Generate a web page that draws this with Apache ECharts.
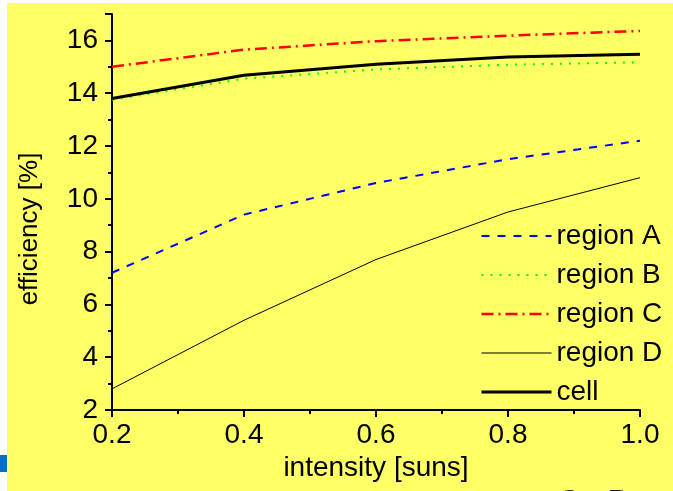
<!DOCTYPE html>
<html>
<head>
<meta charset="utf-8">
<script src="https://cdn.jsdelivr.net/npm/echarts@6/dist/echarts.min.js"></script>
<style>
  html, body { margin: 0; padding: 0; background: #ffffff; }
  #chart { width: 673px; height: 491px; }
</style>
</head>
<body>
<div id="chart"></div>
<script>
// Efficiency versus illumination intensity
const intensity = [0.2, 0.4, 0.6, 0.8, 1.0];
const regionA = [7.2, 9.4, 10.6, 11.5, 12.2];
const regionB = [13.75, 14.55, 14.9, 15.08, 15.17];
const regionC = [15.0, 15.65, 15.97, 16.18, 16.36];
const regionD = [2.8, 5.4, 7.7, 9.5, 10.8];
const cell = [13.8, 14.68, 15.1, 15.37, 15.48];
const yTicks = [2, 4, 6, 8, 10, 12, 14, 16];

const font = 'Liberation Sans, Arial, sans-serif';
const pairs = (ys) => intensity.map((x, i) => [x, ys[i]]);

// line appearance per series
const styles = {
  'region A': { color: '#0000FF', width: 2, type: [8, 8] },
  'region B': { color: '#00FF00', width: 2, type: [2, 7] },
  'region C': { color: '#FF0000', width: 2.5, type: [12, 5, 2, 5] },
  'region D': { color: '#000000', width: 1, type: 'solid' },
  'cell': { color: '#000000', width: 3, type: 'solid' }
};

const chart = echarts.init(document.getElementById('chart'), null, { renderer: 'canvas' });

function lineSeries(name, ys) {
  const s = styles[name];
  return {
    name, type: 'line', data: pairs(ys), symbol: 'none', smooth: false,
    lineStyle: { color: s.color, width: s.width, type: s.type },
    itemStyle: { color: s.color },
    animation: false
  };
}

const legendNames = ['region A', 'region B', 'region C', 'region D', 'cell'];

chart.setOption({
  backgroundColor: '#ffffff',
  animation: false,
  graphic: [
    { type: 'rect', z: -10, shape: { x: 7, y: 3, width: 666, height: 488 }, style: { fill: '#FFFF66' } },
    { type: 'rect', z: -9, shape: { x: 0, y: 455, width: 7, height: 17 }, style: { fill: '#0070C0' } },
    {
      type: 'text', x: 30, y: 229, rotation: Math.PI / 2,
      style: { text: 'efficiency [%]', font: '26px ' + font, fill: '#000', align: 'center', verticalAlign: 'middle' }
    },
    { type: 'text', x: 559, y: 487, style: { text: 'C', font: 'bold 28px ' + font, fill: '#222', align: 'left', verticalAlign: 'top' } },
    { type: 'text', x: 608, y: 487, style: { text: 'R', font: 'bold 28px ' + font, fill: '#222', align: 'left', verticalAlign: 'top' } }
  ],
  grid: { left: 112, right: 33, top: 14, bottom: 81, containLabel: false },
  xAxis: {
    type: 'value', min: 0.2, max: 1.0, interval: 0.2,
    name: 'intensity [suns]', nameLocation: 'middle', nameGap: 40,
    nameTextStyle: { fontFamily: font, fontSize: 28, color: '#000' },
    axisLine: { show: true, onZero: false, lineStyle: { color: '#000', width: 2 } },
    axisTick: { show: true, inside: false, length: 7, lineStyle: { color: '#000', width: 2 } },
    minorTick: { show: true, splitNumber: 2, length: 4, lineStyle: { color: '#000', width: 2 } },
    splitLine: { show: false },
    axisLabel: {
      fontFamily: font, fontSize: 28, color: '#000', margin: 11,
      formatter: (v) => v.toFixed(1)
    }
  },
  yAxis: {
    type: 'value', min: 2, max: 17, interval: 2,
    axisLine: { show: true, onZero: false, lineStyle: { color: '#000', width: 2 } },
    axisTick: { show: true, inside: false, length: 7, lineStyle: { color: '#000', width: 2 } },
    minorTick: { show: true, splitNumber: 2, length: 4, lineStyle: { color: '#000', width: 2 } },
    splitLine: { show: false },
    axisLabel: {
      fontFamily: font, fontSize: 28, color: '#000', margin: 14,
      formatter: (v) => (yTicks.indexOf(Math.round(v)) >= 0 && Math.abs(v - Math.round(v)) < 1e-6) ? String(Math.round(v)) : ''
    }
  },
  legend: {
    orient: 'vertical', left: 475, top: 217,
    itemWidth: 70, itemHeight: 14, itemGap: 11,
    itemStyle: { opacity: 0 },
    textStyle: { fontFamily: font, fontSize: 28, color: '#000', lineHeight: 28, padding: [0, 0, 0, 0] },
    data: legendNames.map((n) => ({
      name: n,
      itemStyle: { opacity: 0 },
      lineStyle: { color: styles[n].color, width: styles[n].width, type: styles[n].type }
    }))
  },
  series: [
    lineSeries('region A', regionA),
    lineSeries('region B', regionB),
    lineSeries('region C', regionC),
    lineSeries('region D', regionD),
    lineSeries('cell', cell)
  ]
});
</script>
</body>
</html>
